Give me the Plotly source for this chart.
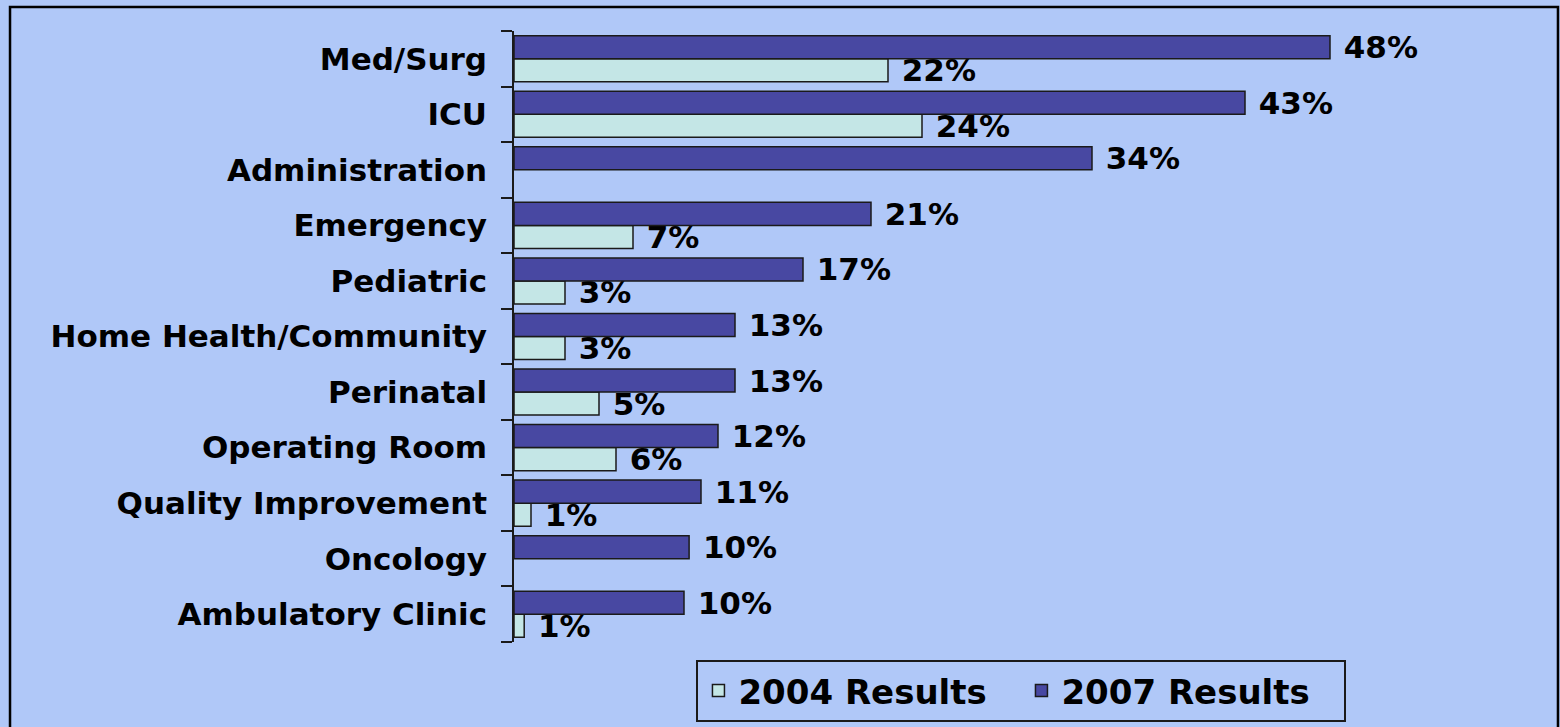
import plotly.graph_objects as go

# Categories listed bottom-to-top (as drawn on the category axis)
categories = [
    "Ambulatory Clinic", "Oncology", "Quality Improvement", "Operating Room",
    "Perinatal", "Home Health/Community", "Pediatric", "Emergency",
    "Administration", "ICU", "Med/Surg",
]
results_2004 = [0.6, None, 1, 6, 5, 3, 3, 7, None, 24, 22]
labels_2004 = ["1%", "", "1%", "6%", "5%", "3%", "3%", "7%", "", "24%", "22%"]
results_2007 = [10, 10.3, 11, 12, 13, 13, 17, 21, 34, 43, 48]
labels_2007 = ["10%", "10%", "11%", "12%", "13%", "13%", "17%", "21%", "34%", "43%", "48%"]
series_names = ["2004 Results", "2007 Results"]

BG = "#B0C8F8"
FONT = "DejaVu Sans"
NBSP = "\u00a0"

fig = go.Figure()
fig.add_trace(go.Bar(
    y=categories, x=results_2004, name=series_names[0], orientation="h",
    text=[NBSP + t if t else "" for t in labels_2004],
    textposition="outside", cliponaxis=False, constraintext="none",
    textfont=dict(family=FONT, size=31, color="black", weight="bold"),
    marker=dict(color="#C4E6E6", line=dict(color="#1a1a1a", width=1.5)),
    hoverinfo="skip",
))
fig.add_trace(go.Bar(
    y=categories, x=results_2007, name=series_names[1], orientation="h",
    text=[NBSP + t for t in labels_2007],
    textposition="outside", cliponaxis=False, constraintext="none",
    textfont=dict(family=FONT, size=31, color="black", weight="bold"),
    marker=dict(color="#4848A2", line=dict(color="#1a1a1a", width=1.5)),
    hoverinfo="skip",
))

fig.update_layout(
    width=1560, height=727,
    margin=dict(l=514, r=26, t=31, b=85, autoexpand=False),
    paper_bgcolor=BG, plot_bgcolor=BG,
    barmode="group", bargap=0.17, bargroupgap=0,
    uniformtext=dict(mode=False),
    xaxis=dict(visible=False, range=[0, 60]),
    yaxis=dict(
        categoryorder="array", categoryarray=categories,
        showline=True, linecolor="#1a1a1a", linewidth=1.5,
        ticks="outside", ticklen=11, tickwidth=1.5, tickcolor="#1a1a1a",
        tickson="boundaries", showgrid=False, ticklabelstandoff=19,
        tickfont=dict(family=FONT, size=31, color="black", weight="bold"),
    ),
    legend=dict(
        orientation="h", x=0.4975, xanchor="center", y=-0.0295, yanchor="top",
        bordercolor="#1a1a1a", borderwidth=2, bgcolor="rgba(0,0,0,0)",
        font=dict(family=FONT, size=34, color="black", weight="bold"),
        traceorder="normal", entrywidth=278, entrywidthmode="pixels",
    ),
    shapes=[dict(
        type="rect", xref="paper", yref="paper",
        x0=-0.4941, x1=1.0235, y0=-0.16, y1=1.0393,
        line=dict(color="black", width=2.5), fillcolor="rgba(0,0,0,0)",
        layer="below",
    )],
)

fig.write_html(
    "out.html",
    config={"displayModeBar": False},
    post_script="document.body.style.margin='0';",
)
